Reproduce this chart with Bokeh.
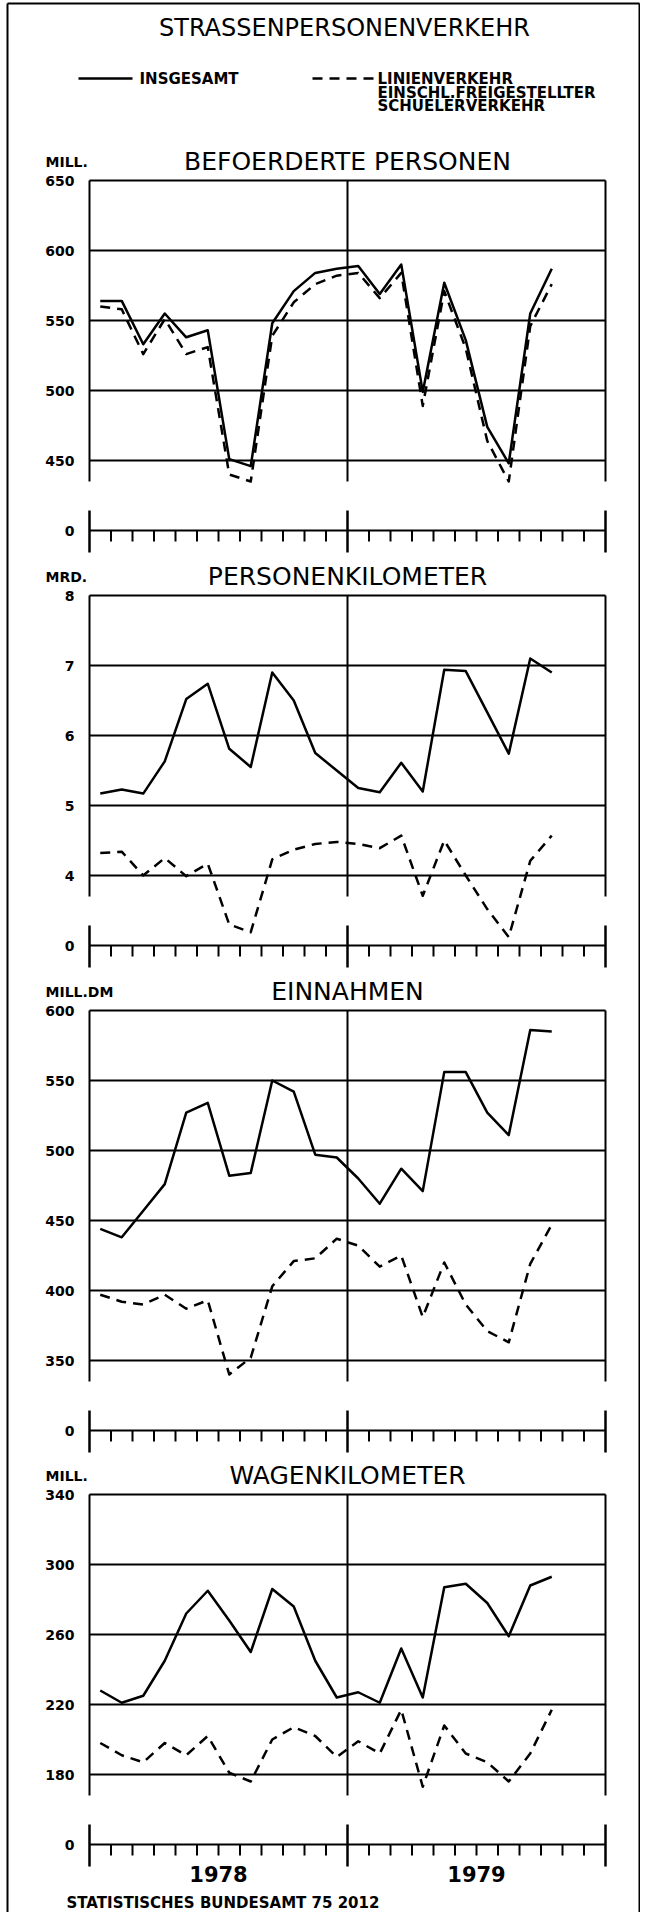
from bokeh.plotting import figure
from bokeh.models import Range1d
from bokeh.embed import file_html
from bokeh.resources import INLINE
from bokeh.core.properties import value

# ---------------- data ----------------
months = list(range(22))                      # Jan 1978 .. Oct 1979
x_mid = [m + 0.5 for m in months]              # plotted at month centres
month_bounds = [b for b in range(1, 24) if b != 12]
year_labels = ["1978", "1979"]
year_centres = [6, 18]

titles = ["BEFOERDERTE PERSONEN", "PERSONENKILOMETER", "EINNAHMEN", "WAGENKILOMETER"]
units = ["MILL.", "MRD.", "MILL.DM", "MILL."]

ticks_pers = [450, 500, 550, 600, 650]
ticks_pkm = [4, 5, 6, 7, 8]
ticks_einn = [350, 400, 450, 500, 550, 600]
ticks_wkm = [180, 220, 260, 300, 340]

pers_total = [564, 564, 533, 555, 538, 543, 451, 446, 548, 571, 584, 587,
              589, 569, 590, 499, 577, 536, 474, 448, 555, 587]
pers_linie = [560, 558, 526, 551, 526, 531, 440, 435, 539, 563, 576, 582,
              584, 566, 584, 489, 571, 530, 464, 435, 546, 576]

pkm_total = [5.17, 5.23, 5.17, 5.63, 6.52, 6.74, 5.81, 5.55, 6.90, 6.50, 5.75, 5.50,
             5.25, 5.19, 5.61, 5.20, 6.94, 6.92, 6.33, 5.74, 7.10, 6.90]
pkm_linie = [4.32, 4.34, 4.00, 4.25, 3.99, 4.17, 3.30, 3.19, 4.23, 4.37, 4.45, 4.48,
             4.45, 4.39, 4.57, 3.71, 4.50, 4.00, 3.52, 3.12, 4.21, 4.57]

einn_total = [444, 438, 457, 476, 527, 534, 482, 484, 550, 542, 497, 495,
              480, 462, 487, 471, 556, 556, 527, 511, 586, 585]
einn_linie = [397, 392, 390, 397, 387, 393, 340, 352, 403, 421, 423, 437,
              432, 417, 425, 381, 420, 390, 371, 363, 419, 447]

wkm_total = [228, 221, 225, 245, 272, 285, 268, 250, 286, 276, 245, 224,
             227, 221, 252, 224, 287, 289, 278, 259, 288, 293]
wkm_linie = [198, 191, 187, 198, 191, 202, 181, 176, 200, 207, 202, 190,
             199, 192, 217, 173, 208, 192, 187, 176, 192, 217]

legend_total = "INSGESAMT"
legend_linie = ["LINIENVERKEHR", "EINSCHL.FREIGESTELLTER", "SCHUELERVERKEHR"]
main_title = "STRASSENPERSONENVERKEHR"
footer = "STATISTISCHES BUNDESAMT 75 2012"

panels = [
    (ticks_pers, pers_total, pers_linie),
    (ticks_pkm, pkm_total, pkm_linie),
    (ticks_einn, einn_total, einn_linie),
    (ticks_wkm, wkm_total, wkm_linie),
]

# ---------------- layout (pixels) ----------------
W, H = 640, 1912
PLOT_L = 89          # left edge of plot boxes
PPM = 21.5           # pixels per month
GRID_PX = 70         # pixels between grid lines
panel_top = [180, 595, 1010, 1494]
FONT = value("DejaVu Sans")

extra = {"px": Range1d(0, W)}
for k, (ticks, _, _) in enumerate(panels):
    step = ticks[1] - ticks[0]
    s = GRID_PX / step
    T = panel_top[k]
    vt = ticks[-1]
    extra_name = f"p{k}"
    extra[extra_name] = Range1d(start=vt - (H - T) / s, end=vt + T / s)

p = figure(width=W, height=H, title=None,
           x_range=Range1d(-PLOT_L / PPM, (W - PLOT_L) / PPM),
           y_range=Range1d(H, 0),
           output_backend="svg", toolbar_location=None,
           x_axis_type=None, y_axis_type=None, min_border=0)
p.extra_x_ranges = {"px": extra.pop("px")}
p.extra_y_ranges = extra
p.grid.visible = False
p.outline_line_color = None
p.background_fill_color = "white"
p.border_fill_color = "white"

# outer frame
p.segment(x0=[7, 7, 639], y0=[3, 3, 3], x1=[7, 639, 639], y1=[H, 3, H],
          x_range_name="px", line_color="black", line_width=2)

# header
p.text(x=[344], y=[27], text=[main_title], x_range_name="px", text_font=FONT,
       text_font_size="24px", text_align="center", text_baseline="middle", text_color="black")
p.line(x=[78, 132], y=[78, 78], x_range_name="px", line_color="black", line_width=2.5)
p.text(x=[139], y=[78], text=[legend_total], x_range_name="px", text_font=FONT,
       text_font_size="15px", text_font_style="bold", text_align="left", text_baseline="middle")
p.line(x=[312, 373], y=[78, 78], x_range_name="px", line_color="black", line_width=2.5,
       line_dash="10 7")
p.text(x=[377, 377, 377], y=[78, 92, 105], text=legend_linie, x_range_name="px", text_font=FONT,
       text_font_size="15px", text_font_style="bold", text_align="left", text_baseline="middle",
       text_line_height=1.0)

# panels
for k, (ticks, total, linie) in enumerate(panels):
    rn = f"p{k}"
    step = ticks[1] - ticks[0]
    s = GRID_PX / step
    zero = ticks[0] - step
    main_bot = ticks[0] - 21 / s
    brk_top = zero + 20 / s
    brk_bot = zero - 22 / s
    T = panel_top[k]

    # title + unit
    p.text(x=[(PLOT_L + 12 * PPM)], y=[T - 19], text=[titles[k]], x_range_name="px",
           text_font=FONT, text_font_size="25px", text_align="center", text_baseline="middle")
    p.text(x=[45], y=[T - 19], text=[units[k]], x_range_name="px", text_font=FONT,
           text_font_size="14px", text_font_style="bold", text_align="left", text_baseline="middle")

    # grid lines (incl. top border) and zero line
    gy = ticks + [zero]
    p.segment(x0=[0] * len(gy), x1=[24] * len(gy), y0=gy, y1=gy, y_range_name=rn,
              line_color="black", line_width=2)
    # vertical edges and year divider
    p.segment(x0=[0, 12, 24], x1=[0, 12, 24], y0=[main_bot] * 3, y1=[ticks[-1]] * 3,
              y_range_name=rn, line_color="black", line_width=2)
    p.segment(x0=[0, 12, 24], x1=[0, 12, 24], y0=[brk_bot] * 3, y1=[brk_top] * 3,
              y_range_name=rn, line_color="black", line_width=2.5)
    # month ticks
    p.segment(x0=month_bounds, x1=month_bounds, y0=[zero] * len(month_bounds),
              y1=[zero - 11 / s] * len(month_bounds), y_range_name=rn,
              line_color="black", line_width=2)
    # tick labels
    p.text(x=[0] * (len(ticks) + 1), y=[zero] + ticks, text=["0"] + [str(t) for t in ticks],
           y_range_name=rn, x_offset=-15, text_font=FONT, text_font_size="14px",
           text_font_style="bold", text_align="right", text_baseline="middle")

    # data
    p.line(x_mid, total, y_range_name=rn, line_color="black", line_width=2.5,
           line_join="round")
    p.line(x_mid, linie, y_range_name=rn, line_color="black", line_width=2.5,
           line_dash="10 7", line_join="round")

# years and footer
p.text(x=year_centres, y=[1873, 1873], text=year_labels, text_font=FONT,
       text_font_size="21px", text_font_style="bold", text_align="center", text_baseline="middle")
p.text(x=[66], y=[1902], text=[footer], x_range_name="px", text_font=FONT,
       text_font_size="15px", text_font_style="bold", text_align="left", text_baseline="middle")

open("out.html", "w").write(file_html(p, INLINE))
